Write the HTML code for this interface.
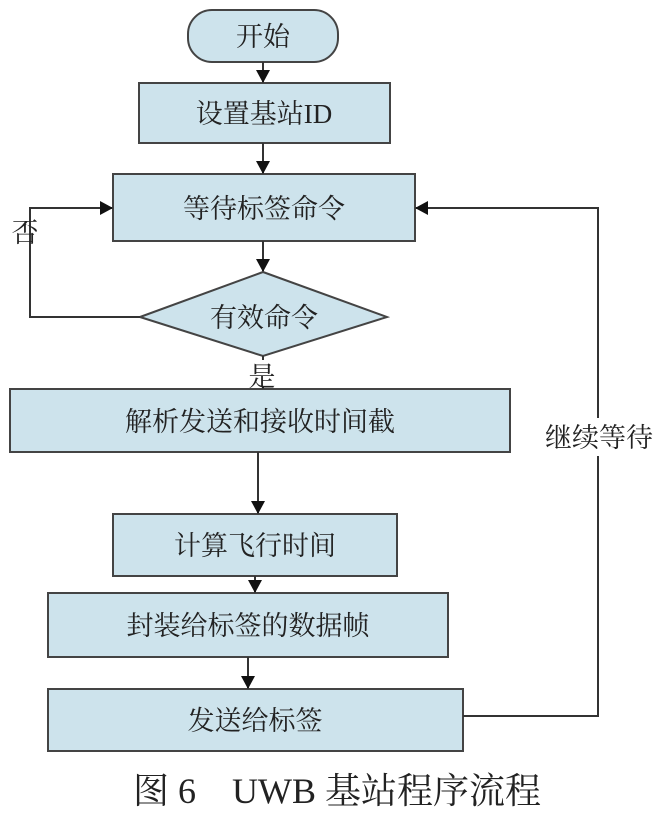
<!DOCTYPE html>
<html><head><meta charset="utf-8"><style>
body{margin:0;background:#fff;}
svg text{font-family:"Liberation Serif","Noto Serif CJK SC",serif;fill:#222;}
</style></head><body>
<svg width="664" height="813" viewBox="0 0 664 813" xmlns="http://www.w3.org/2000/svg">
<defs><marker id="a" markerWidth="14" markerHeight="14" refX="12" refY="7" orient="auto" markerUnits="userSpaceOnUse"><path d="M0,0 L13,7 L0,14 z" fill="#111"/></marker></defs>
<g stroke="#444" stroke-width="2" fill="#cde3ec">
<rect x="188" y="10" width="150" height="52" rx="24"/>
<rect x="139" y="83" width="251" height="60"/>
<rect x="113" y="174" width="302" height="67"/>
<polygon points="140,317 263,272 387,317 263,356"/>
<rect x="10" y="389" width="500" height="63"/>
<rect x="113" y="514" width="284" height="62"/>
<rect x="48" y="593" width="400" height="64"/>
<rect x="48" y="689" width="415" height="62"/>
</g>
<g stroke="#333" stroke-width="2" fill="none">
<line x1="263" y1="62" x2="263" y2="82" marker-end="url(#a)"/>
<line x1="263" y1="143" x2="263" y2="173" marker-end="url(#a)"/>
<line x1="263" y1="241" x2="263" y2="271" marker-end="url(#a)"/>
<line x1="263" y1="356" x2="263" y2="388" marker-end="url(#a)"/>
<line x1="258" y1="452" x2="258" y2="513" marker-end="url(#a)"/>
<line x1="255" y1="576" x2="255" y2="592" marker-end="url(#a)"/>
<line x1="248" y1="657" x2="248" y2="688" marker-end="url(#a)"/>
<polyline points="140,317 30,317 30,208 112,208" marker-end="url(#a)"/>
<polyline points="463,716 598,716 598,208 416,208" marker-end="url(#a)"/>
</g>
<rect x="536" y="418" width="126" height="38" fill="#fff"/>
<rect x="248" y="360" width="30" height="26" fill="#fff"/>
<g font-size="27" text-anchor="middle">
<text x="263" y="46">开始</text>
<text x="264" y="123">设置基站ID</text>
<text x="264" y="218">等待标签命令</text>
<text x="264" y="327">有效命令</text>
<text x="262" y="386">是</text>
<text x="25" y="242">否</text>
<text x="260" y="431">解析发送和接收时间截</text>
<text x="255" y="555">计算飞行时间</text>
<text x="248" y="635">封装给标签的数据帧</text>
<text x="255" y="730">发送给标签</text>
<text x="599" y="447">继续等待</text>
<text x="337" y="803" font-size="36">图 6　UWB 基站程序流程</text>
</g>
</svg>
</body></html>
